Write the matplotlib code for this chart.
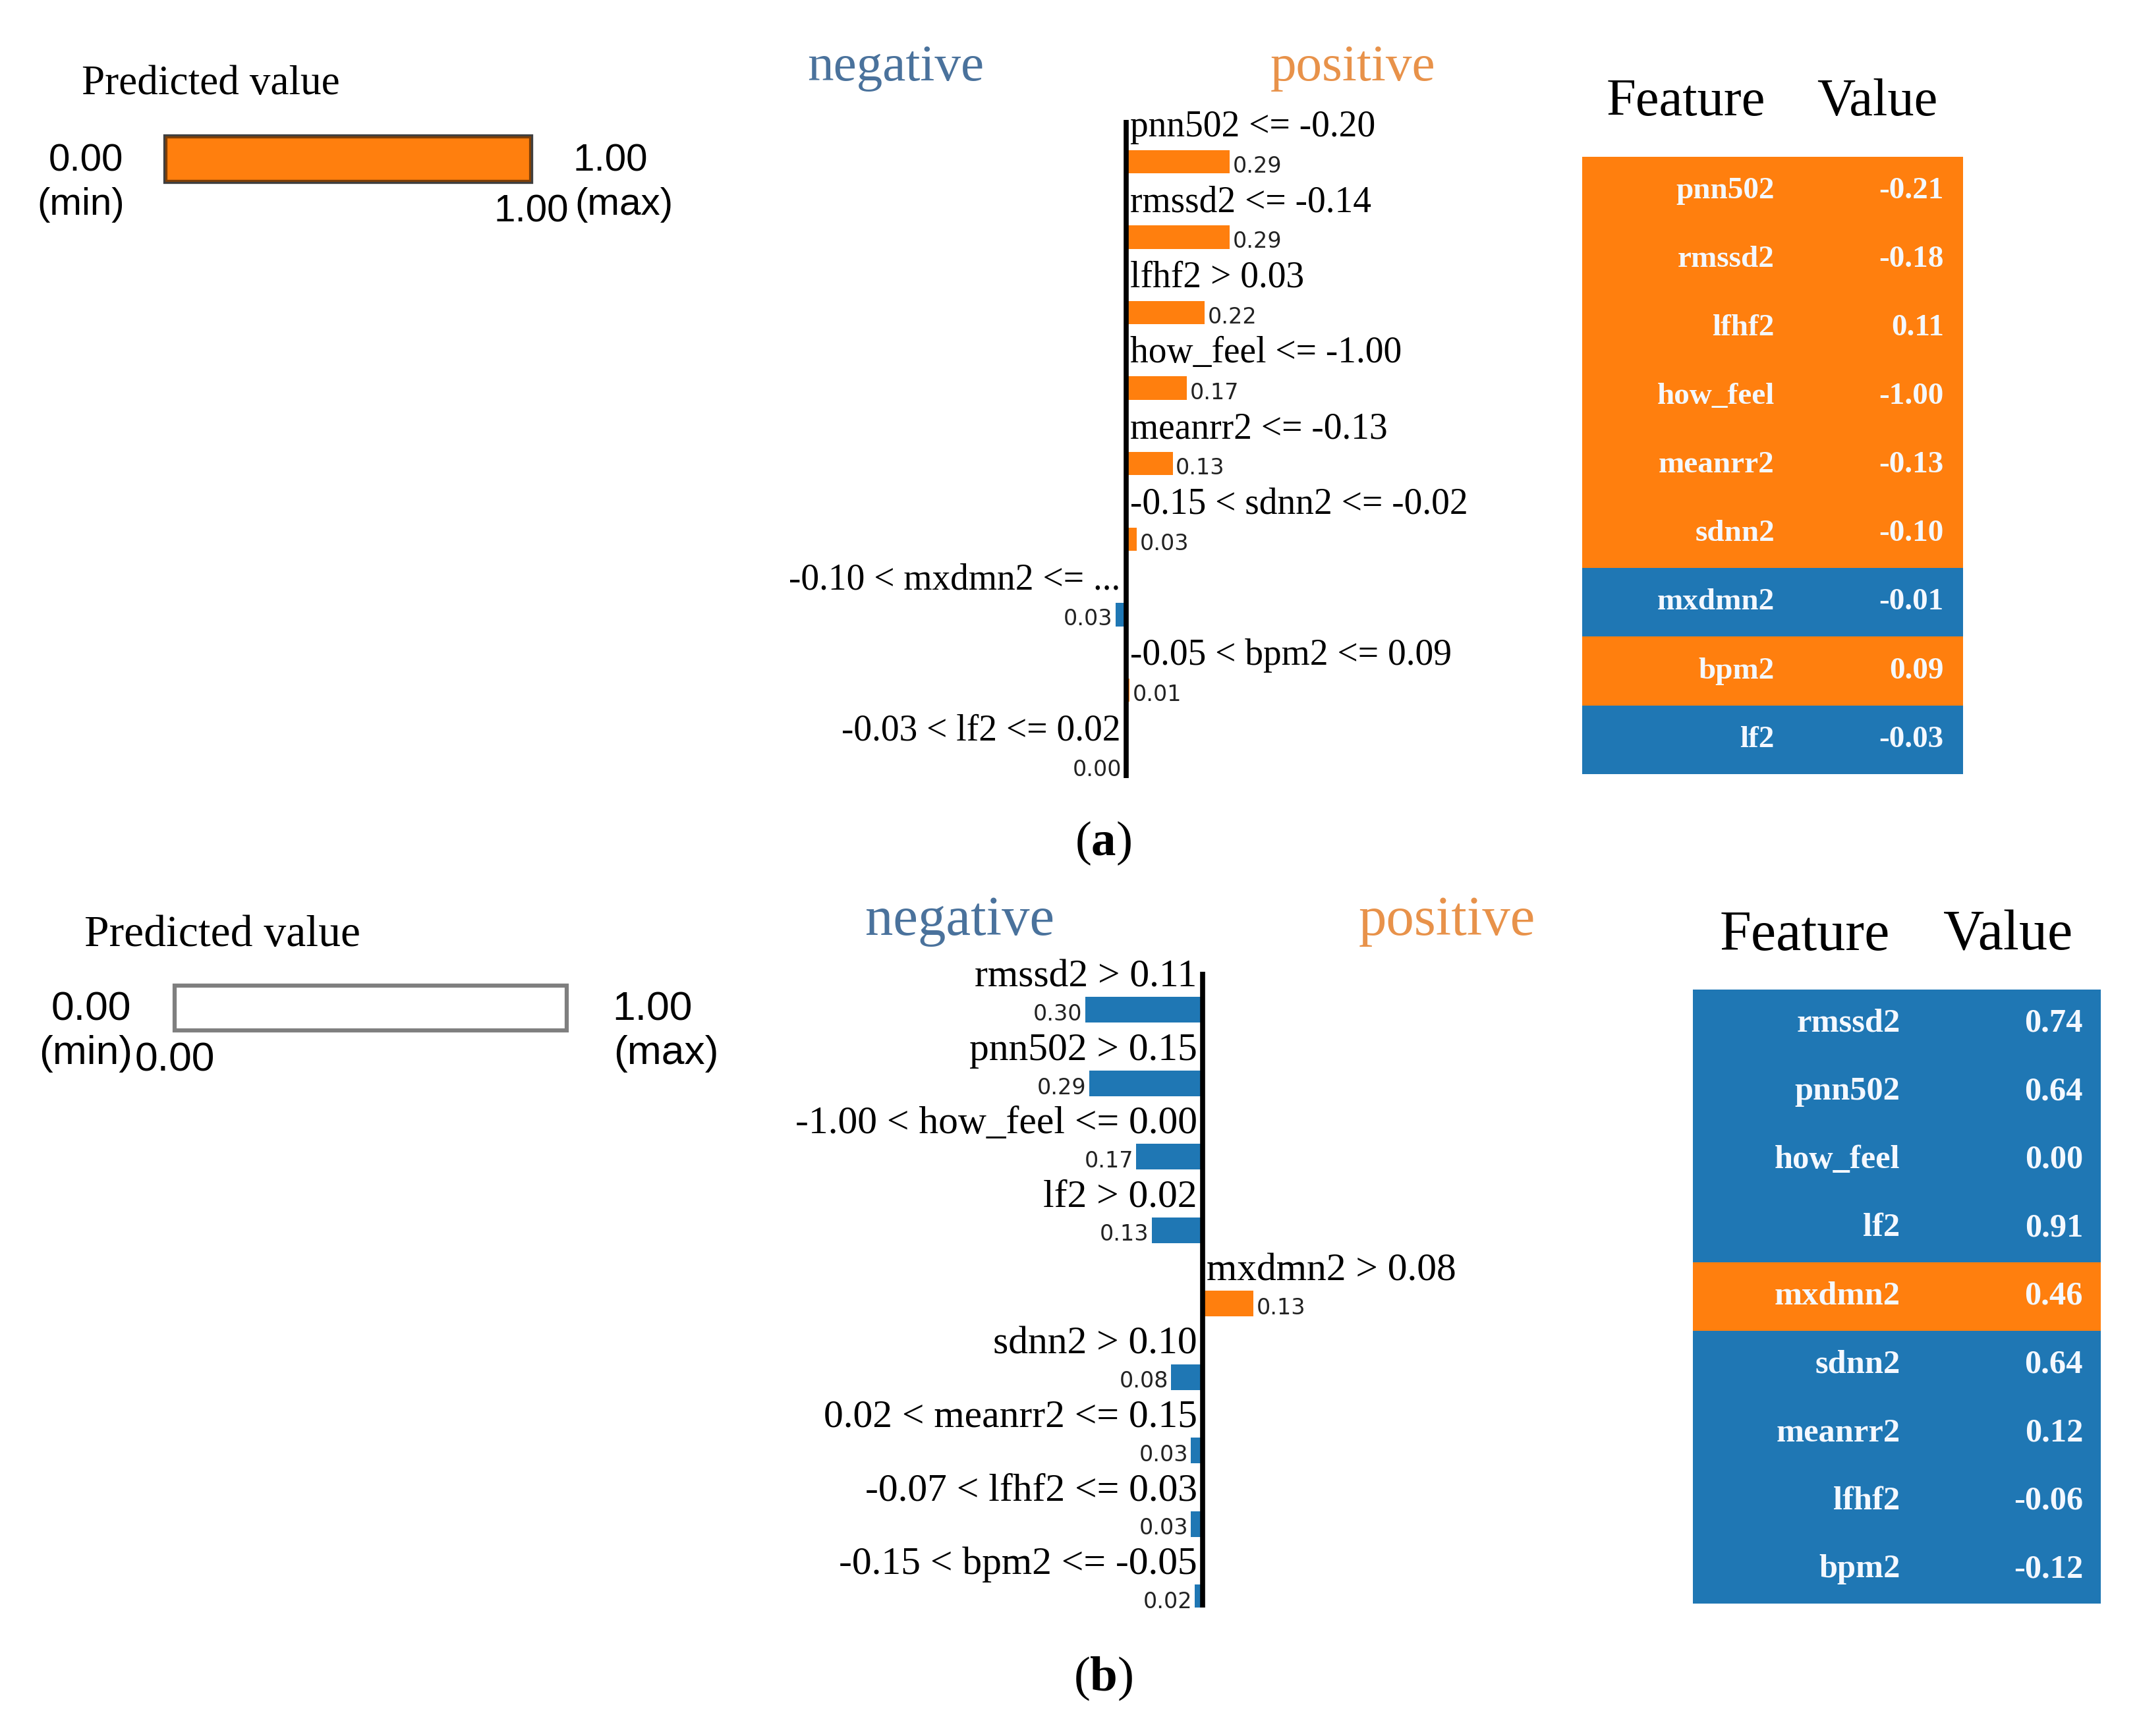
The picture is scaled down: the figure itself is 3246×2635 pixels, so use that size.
import matplotlib
matplotlib.use("Agg")
import matplotlib.pyplot as plt
import numpy as np

plt.rcParams['mathtext.fontset'] = 'custom'
plt.rcParams['mathtext.rm'] = 'Liberation Serif'
plt.rcParams['mathtext.bf'] = 'Liberation Serif:bold'

# ---------------- data ----------------
ORANGE = '#ff7f0e'
BLUE = '#1f77b4'
NEG_TXT = '#4a729c'
POS_TXT = '#e8924a'

# panel (a)
a_pred, a_min, a_max = 1.00, 0.00, 1.00
a_labels = ['pnn502 <= -0.20', 'rmssd2 <= -0.14', 'lfhf2 > 0.03', 'how_feel <= -1.00',
            'meanrr2 <= -0.13', '-0.15 < sdnn2 <= -0.02', '-0.10 < mxdmn2 <= ...',
            '-0.05 < bpm2 <= 0.09', '-0.03 < lf2 <= 0.02']
a_weights = [0.29, 0.29, 0.22, 0.17, 0.13, 0.03, -0.03, 0.01, -0.004]
a_feats = ['pnn502', 'rmssd2', 'lfhf2', 'how_feel', 'meanrr2', 'sdnn2', 'mxdmn2', 'bpm2', 'lf2']
a_vals = ['-0.21', '-0.18', '0.11', '-1.00', '-0.13', '-0.10', '-0.01', '0.09', '-0.03']

# panel (b)
b_pred, b_min, b_max = 0.00, 0.00, 1.00
b_labels = ['rmssd2 > 0.11', 'pnn502 > 0.15', '-1.00 < how_feel <= 0.00', 'lf2 > 0.02',
            'mxdmn2 > 0.08', 'sdnn2 > 0.10', '0.02 < meanrr2 <= 0.15',
            '-0.07 < lfhf2 <= 0.03', '-0.15 < bpm2 <= -0.05']
b_weights = [-0.30, -0.29, -0.17, -0.13, 0.13, -0.08, -0.03, -0.03, -0.02]
b_feats = ['rmssd2', 'pnn502', 'how_feel', 'lf2', 'mxdmn2', 'sdnn2', 'meanrr2', 'lfhf2', 'bpm2']
b_vals = ['0.74', '0.64', '0.00', '0.91', '0.46', '0.64', '0.12', '-0.06', '-0.12']

# ---------------- layout helpers ----------------
W, H = 1567.0, 1272.0   # reference layout grid
fig = plt.figure(figsize=(32.46, 26.35), dpi=100)
fig.patch.set_facecolor('white')

SERIF = 'Liberation Serif'
NARROW = ['Liberation Sans Narrow', 'Liberation Sans']
SMALL = 'DejaVu Sans'


def rect(L, T, R, B):
    return [L / W, 1 - B / H, (R - L) / W, (B - T) / H]


def ftext(X, Y, s, **kw):
    fig.text(X / W, 1 - Y / H, s, **kw)


def predicted_panel(L, T, R, B, pred, vmin, vmax, title_xy, minlab_xy, maxlab_xy, val_y, k=1.0):
    ax = fig.add_axes(rect(L, T, R, B))
    ax.set_xlim(vmin, vmax)
    ax.set_ylim(-0.5, 0.5)
    edge = (0, 0, 0, 0.5)
    ax.barh(0, vmax - vmin, left=vmin, height=1.0, color='white',
            edgecolor=edge, linewidth=4.5, clip_on=False)
    if pred > vmin:
        ax.barh(0, pred - vmin, left=vmin, height=1.0, color=ORANGE,
                edgecolor=edge, linewidth=4.5, clip_on=False)
    ax.axis('off')
    ftext(title_xy[0], title_xy[1], 'Predicted value', fontsize=45.5 * k, family=SERIF,
          ha='left', va='center')
    ftext(minlab_xy[0], minlab_xy[1], f'{vmin:.2f}', fontsize=42 * k, family=NARROW,
          ha='center', va='center')
    ftext(minlab_xy[0] - 4, minlab_xy[1] + 32, '(min)', fontsize=42 * k, family=NARROW,
          ha='center', va='center')
    ftext(maxlab_xy[0], maxlab_xy[1], f'{vmax:.2f}', fontsize=42 * k, family=NARROW,
          ha='center', va='center')
    ftext(maxlab_xy[0] + 10, maxlab_xy[1] + 32, '(max)', fontsize=42 * k, family=NARROW,
          ha='center', va='center')
    yv = (B - val_y) / (B - T) - 0.5
    ax.text(pred, yv, f'{pred:.2f}', fontsize=42 * k, family=NARROW,
            ha='center', va='center', clip_on=False)


def lime_panel(L, T, R, B, axis_X, ppu, bar_c0, pitch, lab_off, bar_h, labels, weights,
               neg_xy, pos_xy, k=1.0):
    ax = fig.add_axes(rect(L, T, R, B))
    ax.set_xlim((L - axis_X) / ppu, (R - axis_X) / ppu)
    ax.set_ylim((B - bar_c0) / pitch, (T - bar_c0) / pitch)
    y = np.arange(len(weights))
    colors = [ORANGE if w > 0 else BLUE for w in weights]
    ax.barh(y, weights, height=bar_h, color=colors)
    ax.axvline(0, color='black', lw=5.5, zorder=5)
    for i, (lab, w) in enumerate(zip(labels, weights)):
        if w > 0:
            ax.text(3 / ppu, i + lab_off, lab, fontsize=40 * k, family=SERIF,
                    ha='left', va='center')
            ax.text(w + 2 / ppu, i + 0.06, f'{abs(w):.2f}', fontsize=24, family=SMALL,
                    ha='left', va='center', color='#222222')
        else:
            ax.text(-4 / ppu, i + lab_off, lab, fontsize=40 * k, family=SERIF,
                    ha='right', va='center')
            ax.text(w - 2 / ppu, i + 0.06, f'{abs(w):.2f}', fontsize=24, family=SMALL,
                    ha='right', va='center', color='#222222')
    ax.axis('off')
    ftext(neg_xy[0], neg_xy[1], 'negative', fontsize=57 * k, family=SERIF, color=NEG_TXT,
          ha='center', va='center')
    ftext(pos_xy[0], pos_xy[1], 'positive', fontsize=57 * k, family=SERIF, color=POS_TXT,
          ha='center', va='center')


def table_panel(L, T, R, B, feats, vals, weights, feat_X, val_X, head_Y, feat_hX, val_hX, k=1.0):
    ax = fig.add_axes(rect(L, T, R, B))
    n = len(feats)
    ax.set_xlim(0, 1)
    ax.set_ylim(n, 0)
    colors = [ORANGE if w > 0 else BLUE for w in weights]
    ax.barh(np.arange(n) + 0.5, 1.0, left=0, height=1.0, color=colors, linewidth=0)
    fx = (feat_X - L) / (R - L)
    vx = (val_X - L) / (R - L)
    for i, (f, v) in enumerate(zip(feats, vals)):
        ax.text(fx, i + 0.5, f, fontsize=34 * k, family=SERIF, weight='bold',
                color='#f4f8ff', ha='right', va='center')
        ax.text(vx, i + 0.5, v, fontsize=34 * k, family=SERIF, weight='bold',
                color='#f4f8ff', ha='right', va='center')
    ax.axis('off')
    ftext(feat_hX, head_Y, 'Feature', fontsize=58 * k, family=SERIF, ha='center', va='center')
    ftext(val_hX, head_Y, 'Value', fontsize=58 * k, family=SERIF, ha='center', va='center')


# ---------------- panel (a) ----------------
predicted_panel(121, 100, 389, 133, a_pred, a_min, a_max,
                title_xy=(60, 62), minlab_xy=(63, 118), maxlab_xy=(447, 118), val_y=155)
lime_panel(560, 88, 1110, 570, axis_X=825, ppu=262, bar_c0=118.5, pitch=55.3,
           lab_off=-0.46, bar_h=0.31, labels=a_labels, weights=a_weights,
           neg_xy=(656, 50), pos_xy=(991, 50))
table_panel(1159, 115, 1438, 567, a_feats, a_vals, a_weights,
            feat_X=1300, val_X=1424, head_Y=75, feat_hX=1235, val_hX=1375)

# ---------------- panel (b) ----------------
KB = 1.07
predicted_panel(128, 722, 415, 755, b_pred, b_min, b_max,
                title_xy=(62, 685), minlab_xy=(67, 740), maxlab_xy=(478, 740), val_y=777, k=KB)
lime_panel(560, 712, 1170, 1178, axis_X=881, ppu=287, bar_c0=740, pitch=53.8,
           lab_off=-0.446, bar_h=0.35, labels=b_labels, weights=b_weights,
           neg_xy=(703, 675), pos_xy=(1060, 675), k=KB)
table_panel(1240, 725, 1539, 1175, b_feats, b_vals, b_weights,
            feat_X=1392, val_X=1526, head_Y=686, feat_hX=1322, val_hX=1471, k=KB)

# captions
ftext(808, 618, r'($\mathbf{a}$)', fontsize=54, ha='center', va='center', family=SERIF)
ftext(808, 1230, r'($\mathbf{b}$)', fontsize=54, ha='center', va='center', family=SERIF)

fig.savefig('out.png', dpi=100, facecolor='white')
